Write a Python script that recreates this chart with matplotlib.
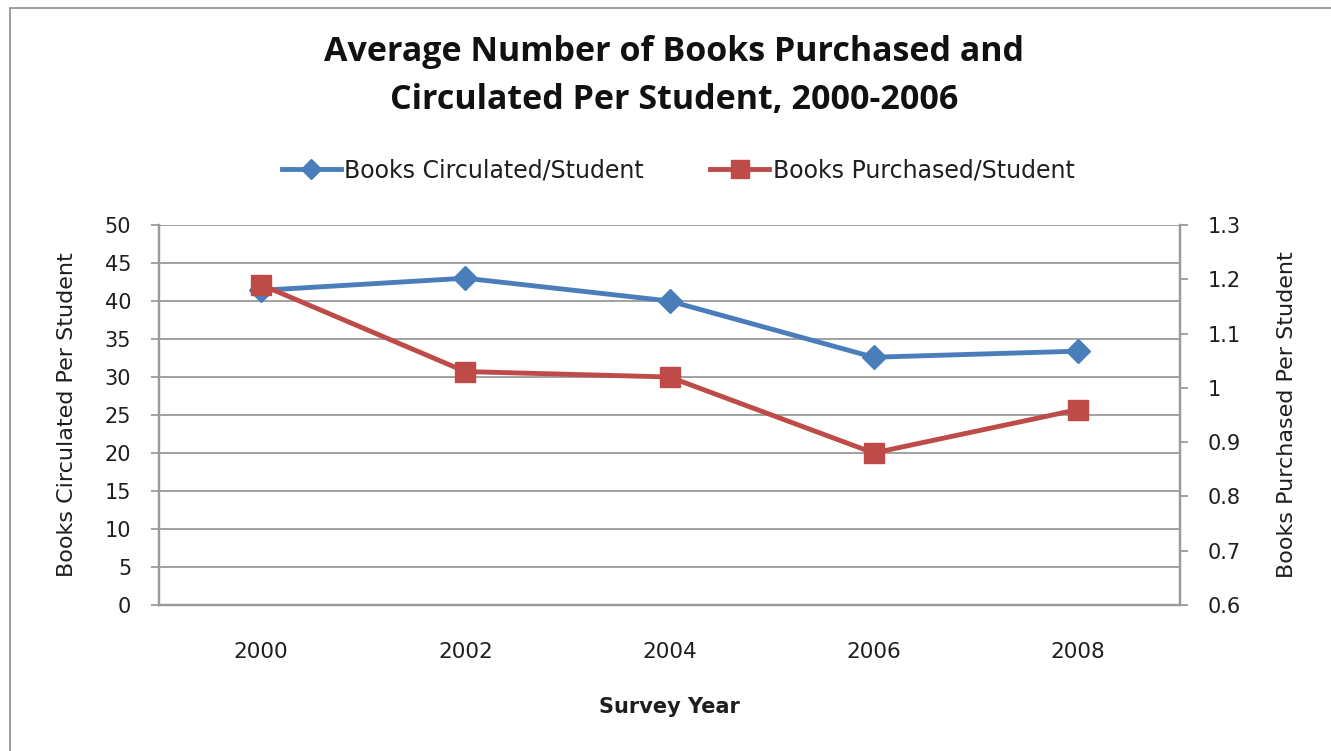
import numpy as np
import matplotlib
matplotlib.use("Agg")
import matplotlib.pyplot as plt
from matplotlib.patches import Rectangle

# survey data
years = ["2000", "2002", "2004", "2006", "2008"]
circulated = [41.4, 43.0, 40.0, 32.6, 33.4]
purchased = [1.19, 1.03, 1.02, 0.88, 0.96]

blue = "#4A7EBB"
red = "#BE4B48"
grid_gray = "#9a9a9a"
text_col = "#1e1e1e"

fig = plt.figure(figsize=(13.31, 7.51), dpi=100)
W, H = 1331, 751

# outer chart frame
fig.patches.append(Rectangle((10 / W, -0.1), 1.2, (751 - 8) / H + 0.1,
                             transform=fig.transFigure, fill=False,
                             edgecolor="#8c8c8c", linewidth=1.2))

ax = fig.add_axes([159 / W, 1 - 605 / H, (1180 - 159) / W, (605 - 225) / H])
ax2 = ax.twinx()

x = np.arange(len(years))
ax.plot(x, circulated, color=blue, linewidth=3.5, marker="D", markersize=12.5,
        label="Books Circulated/Student", zorder=3)
ax2.plot(x, purchased, color=red, linewidth=3.5, marker="s", markersize=14.5,
         label="Books Purchased/Student", zorder=3)

ax.set_xlim(-0.5, 4.5)
ax.set_ylim(0, 50)
ax2.set_ylim(0.6, 1.3)
ax.set_yticks(np.arange(0, 51, 5))
ax2.set_yticks(np.arange(0.6, 1.31, 0.1))
ax2.set_yticklabels(["0.6", "0.7", "0.8", "0.9", "1", "1.1", "1.2", "1.3"])
ax.set_xticks(x)
ax.set_xticklabels(years)

ax.yaxis.grid(True, color=grid_gray, linewidth=1.3)
ax.set_axisbelow(True)

for a in (ax, ax2):
    a.spines["top"].set_visible(False)
    for s in ("left", "right", "bottom"):
        a.spines[s].set_color(grid_gray)
        a.spines[s].set_linewidth(1.6)
    a.tick_params(axis="y", length=6, width=1.3, color=grid_gray,
                  labelsize=15, labelcolor=text_col, pad=14)
ax.tick_params(axis="x", length=0, labelsize=15.5, pad=27, labelcolor=text_col)

ax.set_ylabel("Books Circulated Per Student", fontsize=16, labelpad=20, color=text_col)
ax2.set_ylabel("Books Purchased Per Student", fontsize=16, labelpad=26, color=text_col)
ax.set_xlabel("Survey Year", fontsize=15, fontweight="bold", labelpad=25, color=text_col)

fig.text(674 / W, 1 - 76 / H, "Average Number of Books Purchased and\nCirculated Per Student, 2000-2006",
         ha="center", va="center", fontsize=24.5, fontweight="bold",
         family="Open Sans", linespacing=1.55, color="#111111")

h1, l1 = ax.get_legend_handles_labels()
h2, l2 = ax2.get_legend_handles_labels()
fig.legend(h1 + h2, l1 + l2, loc="center", bbox_to_anchor=(678 / W, 1 - 170 / H),
           ncol=2, frameon=False, fontsize=17, handlelength=2.5,
           columnspacing=2.8, handletextpad=0.15, markerscale=0.85,
           labelcolor=text_col)

fig.savefig("out.png", dpi=100)
